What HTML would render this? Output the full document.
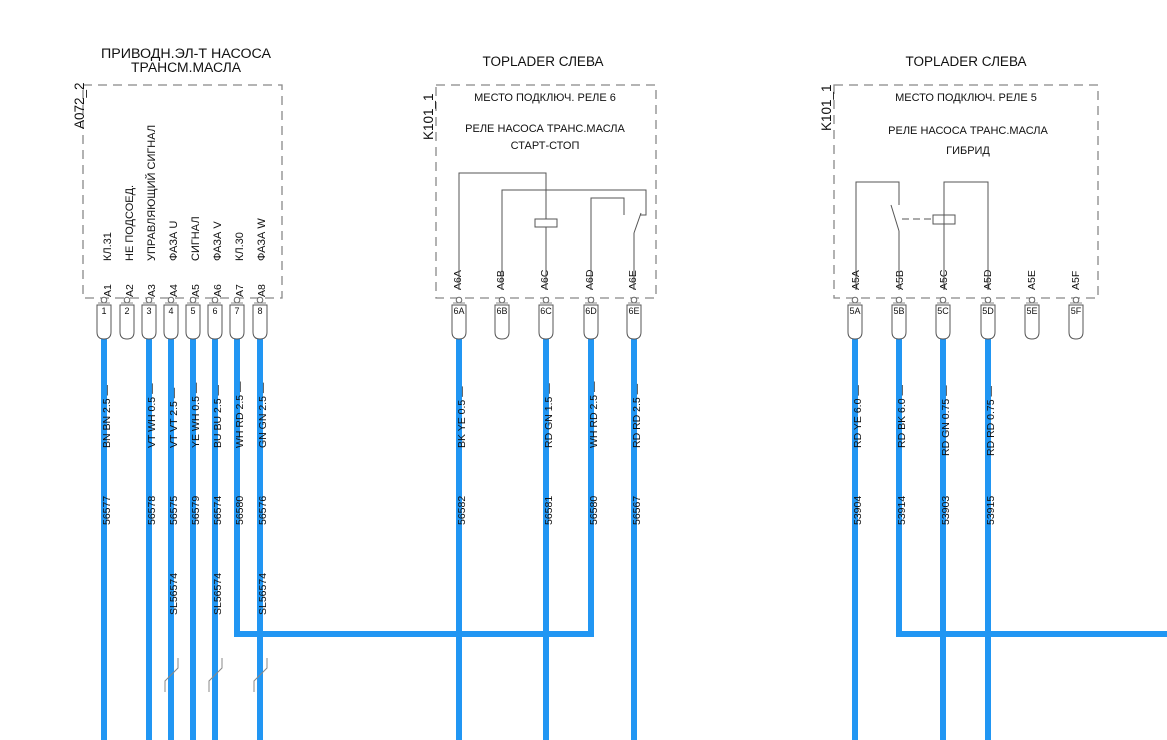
<!DOCTYPE html>
<html><head><meta charset="utf-8"><style>
html,body{margin:0;padding:0;background:#fff;}
svg{display:block;font-family:"Liberation Sans",Arial,sans-serif;}
</style></head><body>
<svg width="1167" height="740" viewBox="0 0 1167 740" xmlns="http://www.w3.org/2000/svg">
<defs>
<g id="cap">
<circle cx="0" cy="300" r="2.8" fill="#fff" stroke="#666" stroke-width="1"/>
<line x1="-6" y1="303" x2="6" y2="303" stroke="#888" stroke-width="1"/>
<path d="M-7,305 L7,305 L7,332 Q7,339 0,339 Q-7,339 -7,332 Z" fill="#fff" stroke="#555" stroke-width="1"/>
</g>
</defs>

<!-- titles -->
<g font-size="13.5" fill="#111" text-anchor="middle">
<text x="186" y="58" textLength="170" lengthAdjust="spacingAndGlyphs">ПРИВОДН.ЭЛ-Т НАСОСА</text>
<text x="186" y="72" textLength="110" lengthAdjust="spacingAndGlyphs">ТРАНСМ.МАСЛА</text>
<text x="543" y="66">TOPLADER СЛЕВА</text>
<text x="966" y="66">TOPLADER СЛЕВА</text>
</g>

<!-- dashed boxes -->
<g fill="none" stroke="#888" stroke-width="1.3" stroke-dasharray="9,6">
<rect x="83" y="85" width="199" height="213"/>
<rect x="436" y="85" width="220" height="213"/>
<rect x="834" y="85" width="264" height="213"/>
</g>

<!-- box ids -->
<g font-size="13.5" fill="#111">
<text transform="translate(84,129) rotate(-90)">A072_2</text>
<text transform="translate(433,140) rotate(-90)">K101_1</text>
<text transform="translate(831,131) rotate(-90)">K101_1</text>
</g>

<!-- wires -->
<g stroke="#2196F3" stroke-width="6" fill="none">
<line x1="104" y1="334" x2="104" y2="740"/>
<line x1="149" y1="334" x2="149" y2="740"/>
<line x1="171" y1="334" x2="171" y2="740"/>
<line x1="193" y1="334" x2="193" y2="740"/>
<line x1="215" y1="334" x2="215" y2="740"/>
<polyline points="237,334 237,634 591,634 591,334"/>
<line x1="260" y1="334" x2="260" y2="740"/>
<line x1="459" y1="334" x2="459" y2="740"/>
<line x1="546" y1="334" x2="546" y2="740"/>
<line x1="634" y1="334" x2="634" y2="740"/>
<line x1="855" y1="334" x2="855" y2="740"/>
<polyline points="899,334 899,634 1167,634"/>
<line x1="943" y1="334" x2="943" y2="740"/>
<line x1="988" y1="334" x2="988" y2="740"/>
</g>

<!-- connector caps -->
<g>
<use href="#cap" x="104"/><use href="#cap" x="127"/><use href="#cap" x="149"/><use href="#cap" x="171"/>
<use href="#cap" x="193"/><use href="#cap" x="215"/><use href="#cap" x="237"/><use href="#cap" x="260"/>
<use href="#cap" x="459"/><use href="#cap" x="502"/><use href="#cap" x="546"/><use href="#cap" x="591"/><use href="#cap" x="634"/>
<use href="#cap" x="855"/><use href="#cap" x="899"/><use href="#cap" x="943"/><use href="#cap" x="988"/><use href="#cap" x="1032"/><use href="#cap" x="1076"/>
</g>
<g font-size="9" fill="#111" text-anchor="middle">
<text x="104" y="314">1</text><text x="127" y="314">2</text><text x="149" y="314">3</text><text x="171" y="314">4</text>
<text x="193" y="314">5</text><text x="215" y="314">6</text><text x="237" y="314">7</text><text x="260" y="314">8</text>
<text x="459" y="314">6A</text><text x="502" y="314">6B</text><text x="546" y="314">6C</text><text x="591" y="314">6D</text><text x="634" y="314">6E</text>
<text x="855" y="314">5A</text><text x="899" y="314">5B</text><text x="943" y="314">5C</text><text x="988" y="314">5D</text><text x="1032" y="314">5E</text><text x="1076" y="314">5F</text>
</g>

<!-- pin labels -->
<g font-size="10.5" fill="#111">
<text transform="translate(111,297) rotate(-90)">A1</text>
<text transform="translate(133,297) rotate(-90)">A2</text>
<text transform="translate(155,297) rotate(-90)">A3</text>
<text transform="translate(177,297) rotate(-90)">A4</text>
<text transform="translate(199,297) rotate(-90)">A5</text>
<text transform="translate(221,297) rotate(-90)">A6</text>
<text transform="translate(243,297) rotate(-90)">A7</text>
<text transform="translate(265,297) rotate(-90)">A8</text>
</g>
<g font-size="11" fill="#111">
<text transform="translate(111,261) rotate(-90)">КЛ.31</text>
<text transform="translate(133,261) rotate(-90)">НЕ ПОДСОЕД.</text>
<text transform="translate(155,261) rotate(-90)">УПРАВЛЯЮЩИЙ СИГНАЛ</text>
<text transform="translate(177,261) rotate(-90)">ФАЗА U</text>
<text transform="translate(199,261) rotate(-90)">СИГНАЛ</text>
<text transform="translate(221,261) rotate(-90)">ФАЗА V</text>
<text transform="translate(243,261) rotate(-90)">КЛ.30</text>
<text transform="translate(265,261) rotate(-90)">ФАЗА W</text>
</g>
<g font-size="10.5" fill="#111">
<text transform="translate(461,290) rotate(-90)">A6A</text>
<text transform="translate(504,290) rotate(-90)">A6B</text>
<text transform="translate(548,290) rotate(-90)">A6C</text>
<text transform="translate(593,290) rotate(-90)">A6D</text>
<text transform="translate(636,290) rotate(-90)">A6E</text>
<text transform="translate(859,290) rotate(-90)">A5A</text>
<text transform="translate(903,290) rotate(-90)">A5B</text>
<text transform="translate(947,290) rotate(-90)">A5C</text>
<text transform="translate(991,290) rotate(-90)">A5D</text>
<text transform="translate(1035,290) rotate(-90)">A5E</text>
<text transform="translate(1079,290) rotate(-90)">A5F</text>
</g>

<!-- relay texts -->
<g font-size="11" fill="#111" text-anchor="middle">
<text x="545" y="101">МЕСТО ПОДКЛЮЧ. РЕЛЕ 6</text>
<text x="545" y="132">РЕЛЕ НАСОСА ТРАНС.МАСЛА</text>
<text x="545" y="149">СТАРТ-СТОП</text>
<text x="966" y="101">МЕСТО ПОДКЛЮЧ. РЕЛЕ 5</text>
<text x="968" y="134">РЕЛЕ НАСОСА ТРАНС.МАСЛА</text>
<text x="968" y="154">ГИБРИД</text>
</g>

<!-- relay internals -->
<g stroke="#555" stroke-width="1" fill="none">
<polyline points="459,290 459,173 546,173 546,219"/>
<rect x="535" y="219" width="22" height="8" fill="#fff"/>
<line x1="546" y1="227" x2="546" y2="290"/>
<polyline points="502,290 502,190 646,190 646,215 640,215"/>
<line x1="641" y1="213" x2="634" y2="233"/>
<line x1="634" y1="233" x2="634" y2="290"/>
<polyline points="591,290 591,198 624,198 624,215"/>

<polyline points="856,290 856,182 899,182 899,205"/>
<line x1="891" y1="205" x2="899" y2="231"/>
<line x1="899" y1="231" x2="899" y2="290"/>
<line x1="902" y1="219" x2="933" y2="219" stroke-dasharray="7,4"/>
<rect x="933" y="215" width="22" height="9" fill="#fff"/>
<polyline points="944,290 944,182 988,182 988,290"/>

<polyline points="178,658 178,668 165,681 165,692" stroke="#888"/>
<polyline points="222,658 222,668 209,681 209,692" stroke="#888"/>
<polyline points="267,658 267,668 254,681 254,692" stroke="#888"/>
</g>

<!-- wire labels -->
<g font-size="10.5" fill="#111">
<text transform="translate(110,448) rotate(-90)">BN BN 2.5 —</text>
<text transform="translate(155,448) rotate(-90)">VT WH 0.5 —</text>
<text transform="translate(177,448) rotate(-90)">VT VT 2.5 —</text>
<text transform="translate(199,448) rotate(-90)">YE WH 0.5 —</text>
<text transform="translate(221,448) rotate(-90)">BU BU 2.5 —</text>
<text transform="translate(243,448) rotate(-90)">WH RD 2.5 —</text>
<text transform="translate(266,448) rotate(-90)">GN GN 2.5 —</text>
<text transform="translate(110,525) rotate(-90)">56577</text>
<text transform="translate(155,525) rotate(-90)">56578</text>
<text transform="translate(177,525) rotate(-90)">56575</text>
<text transform="translate(199,525) rotate(-90)">56579</text>
<text transform="translate(221,525) rotate(-90)">56574</text>
<text transform="translate(243,525) rotate(-90)">56580</text>
<text transform="translate(266,525) rotate(-90)">56576</text>
<text transform="translate(177,615) rotate(-90)">SL56574</text>
<text transform="translate(221,615) rotate(-90)">SL56574</text>
<text transform="translate(266,615) rotate(-90)">SL56574</text>

<text transform="translate(465,448) rotate(-90)">BK YE 0.5 —</text>
<text transform="translate(552,448) rotate(-90)">RD GN 1.5 —</text>
<text transform="translate(597,448) rotate(-90)">WH RD 2.5 —</text>
<text transform="translate(640,448) rotate(-90)">RD RD 2.5 —</text>
<text transform="translate(465,525) rotate(-90)">56582</text>
<text transform="translate(552,525) rotate(-90)">56581</text>
<text transform="translate(597,525) rotate(-90)">56580</text>
<text transform="translate(640,525) rotate(-90)">56567</text>

<text transform="translate(861,448) rotate(-90)">RD YE 6.0 —</text>
<text transform="translate(905,448) rotate(-90)">RD BK 6.0 —</text>
<text transform="translate(949,456) rotate(-90)">RD GN 0.75 —</text>
<text transform="translate(994,456) rotate(-90)">RD RD 0.75 —</text>
<text transform="translate(861,525) rotate(-90)">53904</text>
<text transform="translate(905,525) rotate(-90)">53914</text>
<text transform="translate(949,525) rotate(-90)">53903</text>
<text transform="translate(994,525) rotate(-90)">53915</text>
</g>
</svg>
</body></html>
